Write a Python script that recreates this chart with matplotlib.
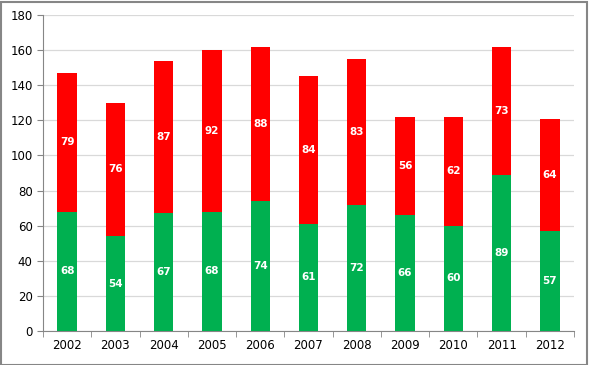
import matplotlib
matplotlib.use("Agg")
import matplotlib.pyplot as plt
import numpy as np

years = ["2002", "2003", "2004", "2005", "2006", "2007", "2008", "2009", "2010", "2011", "2012"]
green_vals = [68, 54, 67, 68, 74, 61, 72, 66, 60, 89, 57]
red_vals = [79, 76, 87, 92, 88, 84, 83, 56, 62, 73, 64]

fig = plt.figure(figsize=(5.89, 3.65), dpi=100)
ax = fig.add_axes([43 / 589, 34 / 365, (574 - 43) / 589, (331 - 15) / 365])

x = np.arange(len(years))
w = 0.4
green_bars = ax.bar(x, green_vals, w, color="#00b050", zorder=3)
red_bars = ax.bar(x, red_vals, w, bottom=green_vals, color="#ff0000", zorder=3)

for bars, vals, base in [(green_bars, green_vals, [0] * len(years)), (red_bars, red_vals, green_vals)]:
    for b, v, b0 in zip(bars, vals, base):
        ax.text(b.get_x() + b.get_width() / 2, b0 + v / 2, str(v), ha="center", va="center",
                color="white", fontsize=7.5, fontweight="bold", zorder=4)

ax.set_xlim(-0.5, len(years) - 0.5)
ax.set_ylim(0, 180)
ax.set_yticks(range(0, 181, 20))
ax.set_xticks(x)
ax.set_xticklabels(years)
ax.set_xticks(np.arange(-0.5, len(years), 1), minor=True)
ax.tick_params(axis="x", which="major", length=0, labelsize=8.5, pad=6)
ax.tick_params(axis="x", which="minor", length=4, color="#868686", direction="out")
ax.tick_params(axis="y", length=4, color="#868686", labelsize=8.5)
ax.grid(axis="y", color="#d9d9d9", linewidth=0.9, zorder=0)

for s in ["top", "right"]:
    ax.spines[s].set_visible(False)
for s in ["left", "bottom"]:
    ax.spines[s].set_color("#868686")

fig.patches.append(plt.Rectangle((0.5 / 589, 0.5 / 365), 586 / 589, 363 / 365, transform=fig.transFigure,
                                 fill=False, edgecolor="#868686", linewidth=1.5))

fig.savefig("out.png", dpi=100)
